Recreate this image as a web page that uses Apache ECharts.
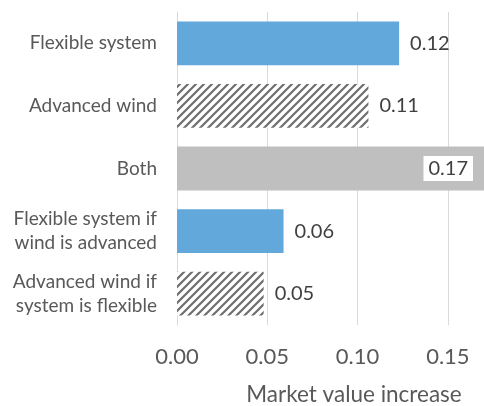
<!DOCTYPE html>
<html>
<head>
<meta charset="utf-8">
<title>Market value increase</title>
<script src="https://cdn.jsdelivr.net/npm/echarts@6/dist/echarts.min.js"></script>
<style>
  html, body { margin: 0; padding: 0; background: #fff; }
  #main { width: 484px; height: 406px; }
</style>
</head>
<body>
<div id="main"></div>
<script>
var categories = ['Flexible system', 'Advanced wind', 'Both',
                  'Flexible system if\nwind is advanced', 'Advanced wind if\nsystem is flexible'];
var values = [0.123, 0.106, 0.172, 0.059, 0.048];
var fills = ['blue', 'hatch', 'gray', 'blue', 'hatch'];
var xTicks = [0, 0.05, 0.10, 0.15];

// diagonal hatch pattern
function makeHatch() {
  var c = document.createElement('canvas');
  c.width = 8; c.height = 8;
  var g = c.getContext('2d');
  g.fillStyle = '#fff';
  g.fillRect(0, 0, 8, 8);
  g.strokeStyle = '#6e6e6e';
  g.lineWidth = 2.2;
  g.beginPath();
  g.moveTo(-2, 10); g.lineTo(10, -2);
  g.moveTo(-2, 2); g.lineTo(2, -2);
  g.moveTo(6, 10); g.lineTo(10, 6);
  g.stroke();
  return c;
}
var hatch = { image: makeHatch(), repeat: 'repeat' };
var colorMap = { blue: '#62a8db', gray: '#bfbfbf', hatch: hatch };

var font = 'Lato, "Open Sans", sans-serif';
var data = values.map(function (v, i) {
  var item = { value: v, itemStyle: { color: colorMap[fills[i]] } };
  if (fills[i] === 'gray') {
    item.label = {
      position: 'insideRight', distance: 11,
      backgroundColor: '#fff', padding: [3, 5, 2, 5]
    };
  }
  return item;
});

var chart = echarts.init(document.getElementById('main'));
chart.setOption({
  animation: false,
  grid: { left: 177, right: 0, top: 12, bottom: 81, containLabel: false, outerBoundsMode: 'none' },
  xAxis: {
    type: 'value', min: 0, max: 0.17, interval: 0.05,
    name: 'Market value increase', nameLocation: 'middle', nameGap: 58,
    nameTextStyle: { color: '#595959', fontSize: 22.5, fontFamily: font, padding: [0, 0, 0, 47] },
    axisLine: { show: false }, axisTick: { show: false },
    axisLabel: {
      color: '#595959', fontSize: 22, fontFamily: font, margin: 21,
      showMaxLabel: false,
      formatter: function (v) { return xTicks.indexOf(Math.round(v * 100) / 100) >= 0 ? v.toFixed(2) : ''; }
    },
    splitLine: { lineStyle: { color: '#d9d9d9', width: 1 } }
  },
  yAxis: {
    type: 'category', data: categories, inverse: true,
    axisLine: { lineStyle: { color: '#d9d9d9' } }, axisTick: { show: false },
    axisLabel: { color: '#595959', fontSize: 19, fontFamily: font, margin: 20, lineHeight: 24, align: 'right' }
  },
  series: [{
    type: 'bar', data: data, barCategoryGap: '30%',
    label: {
      show: true, position: 'right', distance: 11,
      color: '#404040', fontSize: 20, fontFamily: font,
      formatter: function (p) { return p.value.toFixed(2); }
    }
  }]
});
</script>
</body>
</html>
